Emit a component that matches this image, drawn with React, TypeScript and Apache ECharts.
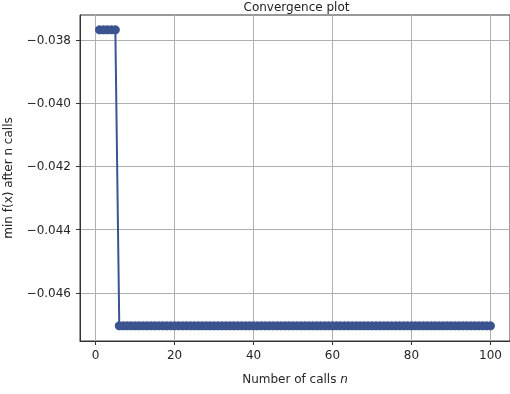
import React, { useEffect, useRef } from "react";
import * as echarts from "echarts";

const calls: number[] = [
  1, 2, 3, 4, 5, 6, 7, 8, 9, 10, 11, 12, 13, 14, 15, 16, 17, 18, 19, 20,
  21, 22, 23, 24, 25, 26, 27, 28, 29, 30, 31, 32, 33, 34, 35, 36, 37, 38, 39, 40,
  41, 42, 43, 44, 45, 46, 47, 48, 49, 50, 51, 52, 53, 54, 55, 56, 57, 58, 59, 60,
  61, 62, 63, 64, 65, 66, 67, 68, 69, 70, 71, 72, 73, 74, 75, 76, 77, 78, 79, 80,
  81, 82, 83, 84, 85, 86, 87, 88, 89, 90, 91, 92, 93, 94, 95, 96, 97, 98, 99, 100,
];

const minValues: number[] = [
  -0.03768, -0.03768, -0.03768, -0.03768, -0.03768,
  -0.04704, -0.04704, -0.04704, -0.04704, -0.04704,
  -0.04704, -0.04704, -0.04704, -0.04704, -0.04704, -0.04704, -0.04704, -0.04704, -0.04704, -0.04704,
  -0.04704, -0.04704, -0.04704, -0.04704, -0.04704, -0.04704, -0.04704, -0.04704, -0.04704, -0.04704,
  -0.04704, -0.04704, -0.04704, -0.04704, -0.04704, -0.04704, -0.04704, -0.04704, -0.04704, -0.04704,
  -0.04704, -0.04704, -0.04704, -0.04704, -0.04704, -0.04704, -0.04704, -0.04704, -0.04704, -0.04704,
  -0.04704, -0.04704, -0.04704, -0.04704, -0.04704, -0.04704, -0.04704, -0.04704, -0.04704, -0.04704,
  -0.04704, -0.04704, -0.04704, -0.04704, -0.04704, -0.04704, -0.04704, -0.04704, -0.04704, -0.04704,
  -0.04704, -0.04704, -0.04704, -0.04704, -0.04704, -0.04704, -0.04704, -0.04704, -0.04704, -0.04704,
  -0.04704, -0.04704, -0.04704, -0.04704, -0.04704, -0.04704, -0.04704, -0.04704, -0.04704, -0.04704,
  -0.04704, -0.04704, -0.04704, -0.04704, -0.04704, -0.04704, -0.04704, -0.04704, -0.04704, -0.04704,
];

const xTicks: number[] = [0, 20, 40, 60, 80, 100];
const yTicks: number[] = [-0.046, -0.044, -0.042, -0.04, -0.038];

const FONT = "DejaVu Sans";

export default function App() {
  const ref = useRef<HTMLDivElement>(null);

  useEffect(() => {
    if (!ref.current) return;
    const chart = echarts.init(ref.current, null, { renderer: "svg" });
    const data = calls.map((c, i) => [c, minValues[i]]);
    chart.setOption({
      animation: false,
      grid: {
        left: 80,
        right: -3,
        top: 15,
        bottom: 53,
        show: true,
        borderColor: "#333",
        borderWidth: 1,
        backgroundColor: "transparent",
      },
      xAxis: {
        type: "value",
        min: -3.95,
        max: 104.95,
        axisLine: { show: true, onZero: false, lineStyle: { color: "#333", width: 1 } },
        axisTick: { show: true, customValues: xTicks, length: 4, lineStyle: { color: "#333" } },
        axisLabel: {
          customValues: xTicks,
          color: "#262626",
          fontSize: 12,
          fontFamily: FONT,
          margin: 8,
        },
        splitLine: { show: true, lineStyle: { color: "#b0b0b0", width: 1 } },
        name: "{a|Number of calls }{b|n}",
        nameLocation: "middle",
        nameGap: 32,
        nameTextStyle: {
          rich: {
            a: { fontSize: 12, fontFamily: FONT, color: "#262626" },
            b: { fontSize: 12, fontFamily: FONT, color: "#262626", fontStyle: "italic" },
          },
        },
      },
      yAxis: {
        type: "value",
        min: -0.04752,
        max: -0.03721,
        axisLine: { show: true, onZero: false, lineStyle: { color: "#333", width: 1 } },
        axisTick: { show: true, customValues: yTicks, length: 4, lineStyle: { color: "#333" } },
        axisLabel: {
          customValues: yTicks,
          color: "#262626",
          fontSize: 12,
          fontFamily: FONT,
          margin: 9,
          formatter: (v: number) => (v < 0 ? "\u2212" : "") + Math.abs(v).toFixed(3),
        },
        splitLine: { show: true, lineStyle: { color: "#b0b0b0", width: 1 } },
      },
      graphic: [
        {
          type: "text",
          x: 296.5,
          y: 13,
          style: {
            text: "Convergence plot",
            font: `12px "${FONT}"`,
            textAlign: "center",
            textVerticalAlign: "bottom",
            fill: "#222",
          },
        },
        {
          type: "text",
          x: 14,
          y: 178,
          rotation: Math.PI / 2,
          style: {
            text: "min f(x) after n calls",
            font: `12px "${FONT}"`,
            textAlign: "center",
            textVerticalAlign: "bottom",
            fill: "#262626",
          },
        },
      ],
      series: [
        {
          type: "line",
          data,
          symbol: "circle",
          symbolSize: 9,
          showSymbol: true,
          lineStyle: { color: "#3b5490", width: 2 },
          itemStyle: { color: "#3b5490", borderWidth: 0 },
          clip: false,
        },
      ],
    });
    return () => chart.dispose();
  }, []);

  return (
    <div
      ref={ref}
      style={{ position: "fixed", left: 0, top: 0, width: 510, height: 394 }}
    />
  );
}
